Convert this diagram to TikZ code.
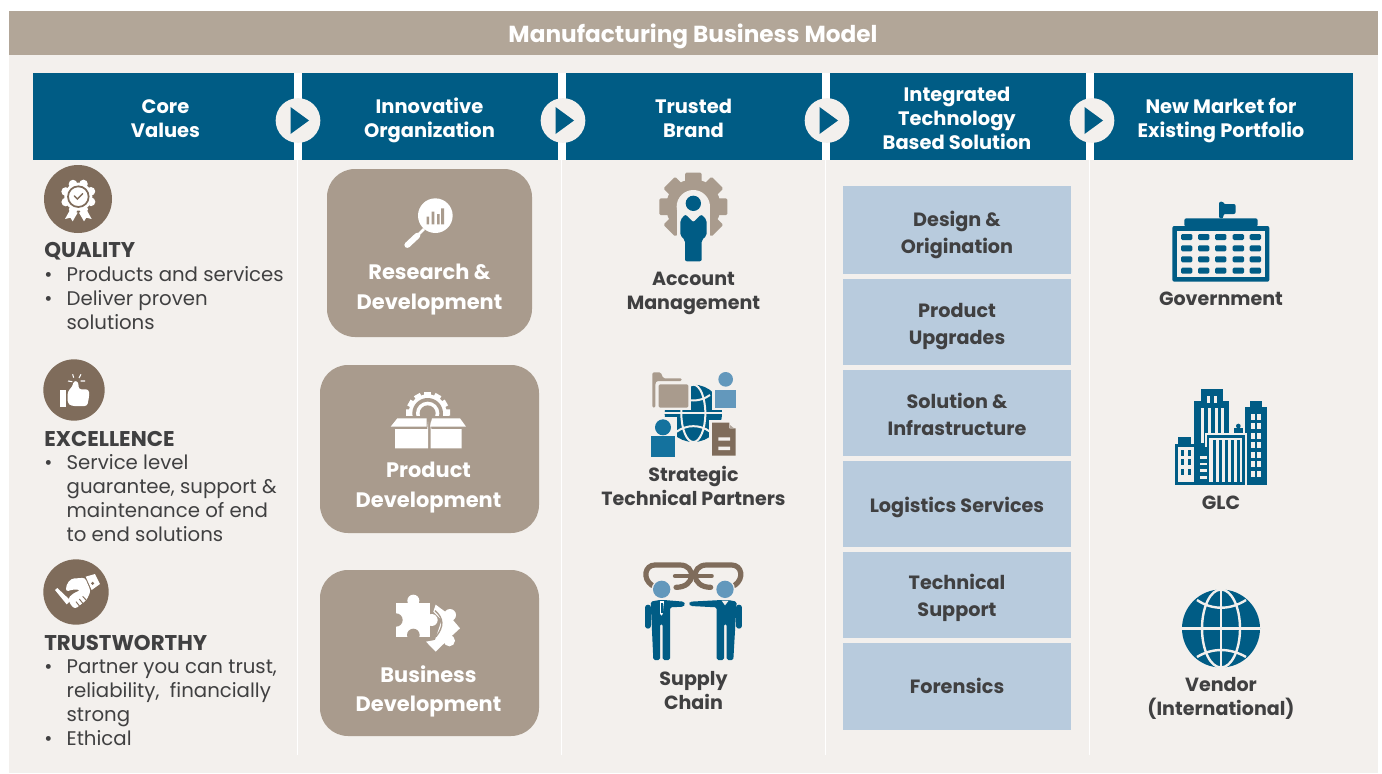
\documentclass[tikz,border=0pt]{standalone}
\usepackage{fontspec}
\setmainfont{Poppins}
\definecolor{bgp}{HTML}{F3F0ED}
\definecolor{tanbar}{HTML}{B2A698}
\definecolor{tanbox}{HTML}{A99B8D}
\definecolor{brownc}{HTML}{7F6C5B}
\definecolor{navy}{HTML}{005C85}
\definecolor{paleb}{HTML}{B8CBDD}
\definecolor{midb}{HTML}{6398BC}
\definecolor{tealb}{HTML}{14729E}
\definecolor{ink}{HTML}{404041}
\tikzset{
 zm/.style 2 args={shift={(#1,#2)},x=0.25pt,y=-0.25pt},
 headtxt/.style={text=white,font=\fontsize{14.6}{18}\selectfont\bfseries,align=center,inner sep=0pt},
 boxtxt/.style={text=white,font=\fontsize{15.7}{22}\selectfont\bfseries,align=center,inner sep=0pt},
 bluetxt/.style={text=ink,font=\fontsize{14.4}{20.25}\selectfont\bfseries,align=center,inner sep=0pt},
 captxt/.style={text=ink,font=\fontsize{14.3}{18}\selectfont\bfseries,align=center,inner sep=0pt},
 lefthead/.style={text=ink,font=\fontsize{16}{18}\selectfont\bfseries,align=left,anchor=west,inner sep=0pt},
 lefttxt/.style={text=ink,font=\fontsize{14.8}{18}\selectfont,align=left,anchor=north west,inner sep=0pt},
 tanround/.style={fill=tanbox,draw=none,rounded corners=21pt},
 bluecell/.style={fill=paleb,draw=none},
 playc/.style={circle,fill=bgp,minimum size=33.5pt,inner sep=0pt},
 sep/.style={draw=white,line width=0.9pt},
}
\newcommand{\bl}{\makebox[16.8pt][l]{•}}
\newcommand{\ind}{\hspace*{16.8pt}}
\begin{document}
\begin{tikzpicture}[x=0.75pt,y=-0.75pt]
\useasboundingbox (0,0) rectangle (1382,774);
\fill[white] (0,0) rectangle (1382,774);
\fill[bgp] (9,55) rectangle (1378,773);
\fill[tanbar] (9,11) rectangle (1378,55);
\node[text=white,font=\fontsize{17.4}{20}\selectfont\bfseries,inner sep=0pt] (title) at (693,36) {Manufacturing Business Model};
% header
\fill[navy] (33,73) rectangle (1353,160);
\foreach \xx in {297.5,561.5,825.5,1089.5}{
 \fill[white] (\xx-4,73) rectangle (\xx+4,160);
 \draw[sep] (\xx,160) -- (\xx,755);
}
\node[headtxt] (h1) at (165.5,119) {Core\\Values};
\node[headtxt] (h2) at (429.5,120) {Innovative\\Organization};
\node[headtxt] (h3) at (693.5,118) {Trusted\\Brand};
\node[headtxt] (h4) at (957,118) {Integrated\\Technology\\Based Solution};
\node[headtxt] (h5) at (1221,121) {New Market for\\Existing Portfolio};
\foreach \xx/\nm in {298/a,563/b,827/c,1092/d}{
 \node[playc] (p\nm) at (\xx,120.5) {};
 \fill[navy] (\xx-7.5,107) -- (\xx+11,120.5) -- (\xx-7.5,134) -- cycle;
}
% left column
\node[circle,fill=brownc,minimum size=51pt,inner sep=0pt] (c1) at (78,199) {};
\node[circle,fill=brownc,minimum size=46pt,inner sep=0pt] (c2) at (74,390) {};
\node[circle,fill=brownc,minimum size=49pt,inner sep=0pt] (c3) at (76,592) {};
\begin{scope}[zm={30}{160}]
 \foreach \a in {0,45,...,315}{\fill[white] (145,110)++(\a+22:41) circle (13);}
 \fill[white] (145,110) circle (42);
 \draw[brownc,line width=1.3pt] (145,110) circle (31);
 \draw[brownc,line width=1.1pt,line cap=round] (133,108) -- (142,117) -- (158,101);
 \fill[white] (120,150) -- (105,177) -- (121,173) -- (128,184) -- (143,158) -- cycle;
 \fill[white] (170,150) -- (185,177) -- (169,173) -- (162,184) -- (147,158) -- cycle;
\end{scope}
\begin{scope}[zm={30}{350}]
 \fill[white] (90,120) rectangle (108,170);
 \fill[white,rounded corners=2pt] (113,125) -- (128,108) -- (131,92) -- (145,95) -- (146,118) -- (176,118) -- (178,135) -- (172,168) -- (125,168) -- (113,160) -- cycle;
 \draw[white,line width=.8pt] (114,93) -- (127,95) (128,73) -- (131,83) (153,73) -- (147,84) (152,93) -- (165,93);
\end{scope}
\begin{scope}[zm={40}{560}]
 \fill[white,rounded corners=2pt] (78,95) .. controls (78,72) and (90,55) .. (112,55) -- (135,53) -- (152,93) -- (140,120) -- (105,147) -- (92,135) -- (84,115) -- (100,100) -- (122,90) -- (100,88) -- cycle;
 \fill[white] (137,50) -- (165,42) -- (180,72) -- (155,90) -- cycle;
 \fill[brownc] (158,70) circle (5);
 \fill[white] (45,90) -- (52,84) -- (92,122) -- (80,133) -- cycle;
 \draw[brownc,line width=.7pt] (108,125) -- (120,140) (118,117) -- (130,132) (128,109) -- (140,122);
\end{scope}
\node[lefthead] (q) at (44,251.5) {QUALITY};
\node[lefttxt] (qt) at (44,266.5) {\bl Products and services\\\bl Deliver proven\\\ind solutions};
\node[lefthead] (e) at (44,438.5) {EXCELLENCE};
\node[lefttxt] (et) at (44,454.5) {\bl Service level\\\ind guarantee, support \&\\\ind maintenance of end\\\ind to end solutions};
\node[lefthead] (t) at (44,642.5) {TRUSTWORTHY};
\node[lefttxt] (tt) at (44,659) {\bl Partner you can trust,\\\ind reliability,\ \ financially\\\ind strong\\\bl Ethical};
% column 2
\fill[tanround] (327,169) rectangle (532,337);
\fill[tanround] (320,365) rectangle (539,533);
\fill[tanround] (320,570) rectangle (539,736);
\node[boxtxt] (b1) at (429.5,289.5) {Research \&\\Development};
\node[boxtxt] (b2) at (428.5,487.5) {Product\\Development};
\node[boxtxt] (b3) at (428.5,691.5) {Business\\Development};
\begin{scope}[zm={320}{165}]
 \fill[white] (346,152) circle (52);
 \draw[white,line width=4.4pt,line cap=round] (262,240) -- (292,212);
 \draw[white,line width=2pt] (290,214) -- (312,192);
 \fill[tanbox] (320,155) rectangle (327,178) (335,140) rectangle (343,178) (351,147) rectangle (359,178) (363,130) rectangle (372,178);
 % gear & box
 \begin{scope}
  \clip (200,660) rectangle (450,752);
  \foreach \a in {0,30,...,330}{\fill[white,rotate around={\a:(323,745)}] (313,680) rectangle (333,700);}
  \fill[white] (323,745) circle (57);
  \fill[tanbox] (323,745) circle (46);
  \fill[white] (323,745) circle (35);
  \fill[tanbox] (323,745) circle (24);
  \fill[tanbox] (200,752) rectangle (450,760);
  \fill[white] (258,733) rectangle (275,752) (372,733) rectangle (390,752);
 \end{scope}
 \fill[white] (232,760) -- (320,760) -- (320,785) -- (212,785) -- cycle;
 \fill[white] (336,760) -- (420,760) -- (438,785) -- (330,785) -- cycle;
 \fill[white] (225,792) -- (322,792) -- (324,770) -- (324,850) -- (225,850) -- cycle;
 \fill[white] (332,850) -- (332,770) -- (334,792) -- (425,792) -- (425,850) -- cycle;
\end{scope}
\begin{scope}[zm={370}{580}]
 \fill[white] (78,68) -- (180,68) -- (180,170) -- (78,170) -- cycle;
 \fill[white] (130,62) circle (18);
 \fill[white] (185,120) circle (18);
 \fill[tanbox] (78,120) circle (20);
 \fill[tanbox] (130,165) circle (19);
 \fill[tanbox] (130,172) rectangle (140,175);
 \fill[white] (197,74) -- (232,100) -- (270,145) -- (245,168) -- (197,215) -- (168,185) -- (195,180) -- (205,150) -- (215,120) -- (190,95) -- cycle;
 \fill[white] (240,105) circle (18);
 \fill[white] (238,182) circle (17);
 \draw[tanbox,line width=1pt] (195,92) .. controls (222,115) and (222,140) .. (198,170);
\end{scope}
% column 3 icons
\begin{scope}[zm={600}{165}]
 \foreach \a in {0,45,...,315}{\fill[tanbox,rotate around={\a:(280,125)},rounded corners=1pt] (255,23) rectangle (305,70);}
 \fill[tanbox] (280,125) circle (82);
 \fill[bgp] (280,125) circle (50);
 \fill[bgp] (230,130) rectangle (330,225);
 \fill[bgp] (245,200) rectangle (315,292);
 \fill[navy] (280,115) circle (23);
 \fill[navy,rounded corners=1.5pt] (241,165) -- (256,148) -- (280,172) -- (304,148) -- (320,165) -- (320,212) -- (305,225) -- (305,289) -- (255,289) -- (255,225) -- (241,212) -- cycle;
\end{scope}
\begin{scope}[zm={600}{165}]
 \fill[navy] (280,745) circle (86);
 \draw[bgp,line width=1.5pt] (280,745) ellipse (36 and 86);
 \draw[bgp,line width=1.5pt] (190,745) -- (370,745);
 \draw[bgp,line width=1.5pt] (230,690) .. controls (260,712) and (300,712) .. (330,690);
 \draw[bgp,line width=1.5pt] (230,800) .. controls (260,778) and (300,778) .. (330,800);
 \fill[bgp] (150,612) rectangle (272,736);
 \fill[tanbox,rounded corners=1pt] (157,622) -- (182,622) -- (190,640) -- (245,640) -- (245,648) -- (170,648) -- (166,655) -- (166,728) -- (157,728) -- cycle;
 \fill[tanbox,rounded corners=1pt] (176,658) rectangle (265,728);
 \fill[bgp] (337,612) rectangle (415,735);
 \fill[midb] (377,643) circle (22);
 \fill[midb] (345,675) rectangle (408,728);
 \fill[bgp] (145,755) rectangle (232,885);
 \fill[tealb] (189,787) circle (24);
 \fill[tealb] (153,814) rectangle (225,876);
 \fill[bgp] (328,765) rectangle (415,880);
 \fill[brownc] (336,773) -- (388,773) -- (388,790) -- (407,790) -- (407,872) -- (336,872) -- cycle;
 \fill[brownc!60] (390,780) -- (402,790) -- (390,790) -- cycle;
 \fill[bgp] (355,817) rectangle (390,827) (355,845) rectangle (390,855);
\end{scope}
\begin{scope}[zm={620}{550}]
 \draw[brownc,line width=3.9pt,line cap=round] (96,106) .. controls (66,85) and (75,45) .. (105,45) -- (180,45) .. controls (228,45) and (228,112) .. (168,112);
 \draw[brownc,line width=3.9pt,line cap=round] (344,106) .. controls (374,85) and (365,45) .. (335,45) -- (260,45) .. controls (212,45) and (212,112) .. (272,112);
 \draw[brownc,line width=3.2pt,line cap=round] (165,78) -- (275,78);
 \fill[bgp] (125,118) circle (30) (315,118) circle (30);
 \fill[midb] (125,118) circle (26);
 \fill[midb] (315,118) circle (26);
 % left person
 \fill[navy,rounded corners=1.2pt] (92,155) -- (118,150) -- (132,150) -- (192,155) -- (196,163) -- (190,170) -- (150,172) -- (150,215) -- (150,330) -- (128,330) -- (128,222) -- (120,222) -- (120,330) -- (100,330) -- cycle;
 \draw[navy,line width=4pt,line cap=round] (84,172) -- (84,228);
 \fill[white] (120,153) -- (132,153) -- (128,192) -- (125,197) -- (120,192) -- cycle;
 \fill[navy] (123,160) rectangle (129,190);
 % right person
 \fill[navy,rounded corners=1.2pt] (350,155) -- (325,150) -- (305,150) -- (210,155) -- (206,162) -- (212,168) -- (290,172) -- (290,330) -- (312,330) -- (312,222) -- (320,222) -- (320,330) -- (340,330) -- cycle;
 \draw[navy,line width=4pt,line cap=round] (357,172) -- (357,228);
 \fill[bgp] (305,152) -- (326,152) -- (315,166) -- cycle;
\end{scope}
\node[captxt] (a1) at (693.5,293) {Account\\Management};
\node[captxt] (a2) at (693.5,486) {Strategic\\Technical Partners};
\node[captxt] (a3) at (693.5,690.5) {Supply\\Chain};
% column 4
\fill[bluecell] (843,186) rectangle (1071,274);
\fill[bluecell] (843,279) rectangle (1071,365);
\fill[bluecell] (843,370) rectangle (1071,456);
\fill[bluecell] (843,461) rectangle (1071,547);
\fill[bluecell] (843,552) rectangle (1071,638);
\fill[bluecell] (843,643) rectangle (1071,730);
\node[bluetxt] (s1) at (957,235) {Design \&\\Origination};
\node[bluetxt] (s2) at (957,326.5) {Product\\Upgrades};
\node[bluetxt] (s3) at (957,414) {Solution \&\\Infrastructure};
\node[bluetxt] (s4) at (957,507.5) {Logistics Services};
\node[bluetxt] (s5) at (957,598) {Technical\\Support};
\node[bluetxt] (s6) at (957,686) {Forensics};
% column 5
\begin{scope}[zm={1150}{190}]
 \fill[navy,rounded corners=1.5pt] (207,85) -- (207,35) -- (220,35) -- (220,42) -- (257,42) -- (257,72) -- (220,72) -- (220,85) -- cycle;
 \fill[navy,rounded corners=1.5pt] (103,110) -- (103,85) -- (323,85) -- (323,110) -- cycle;
 \fill[navy,rounded corners=1.5pt] (67,108) rectangle (358,275);
 \fill[bgp] (82,123) rectangle (345,260);
 \foreach \yy in {141,175,208,242}{\foreach \xx in {110,161,212,265,316}{
  \fill[navy,rounded corners=1pt] (\xx-17,\yy-9) rectangle (\xx+17,\yy+9);
 }}
 % GLC
 \fill[navy] (152,598) rectangle (218,640);
 \fill[navy] (132,632) rectangle (237,770);
 \foreach \xx in {170,192}{\fill[bgp] (\xx,618) rectangle (\xx+10,640);}
 \foreach \xx in {154,174,194,214}{\fill[bgp] (\xx,655) rectangle (\xx+9,760);}
 \fill[navy] (300,632) rectangle (337,660);
 \fill[navy] (285,652) rectangle (352,885);
 \foreach \yy in {680,708,737,765,795,823,852}{\foreach \xx in {309,327}{
  \fill[bgp] (\xx-5,\yy-9) rectangle (\xx+5,\yy+9);
 }}
 \fill[navy] (252,715) rectangle (280,740);
 \fill[navy] (265,708) circle (7);
 \fill[bgp] (165,728) rectangle (290,890);
 \fill[navy] (170,735) rectangle (285,885);
 \fill[bgp] (178,745) rectangle (277,875);
 \foreach \xx in {189,207,225,243,261}{\fill[navy] (\xx,750) rectangle (\xx+9,875);}
 \fill[navy] (132,770) rectangle (172,885);
 \foreach \yy in {798,818,838,858}{\fill[bgp] (150,\yy) rectangle (170,\yy+8);}
 \fill[navy] (85,742) rectangle (122,770);
 \fill[navy] (75,762) rectangle (135,885);
 \fill[bgp] (84,772) rectangle (132,876);
 \foreach \yy in {788,817,845}{\foreach \xx in {98,118}{\fill[navy] (\xx-4,\yy-9) rectangle (\xx+4,\yy+9);}}
\end{scope}
\node[captxt] (g1) at (1221,299) {Government};
\node[captxt] (g2) at (1221,503) {GLC};
\node[captxt] (g3) at (1221,698) {Vendor\\(International)};
\fill[navy] (1221,628.5) circle (39);
\draw[bgp,line width=1.8pt] (1221,628.5) ellipse (19 and 39);
\draw[bgp,line width=1.8pt] (1221,589) -- (1221,668) (1182,628.5) -- (1260,628.5);
\draw[bgp,line width=1.8pt] (1197,600) .. controls (1212,610.3) and (1230,610.3) .. (1246,600);
\draw[bgp,line width=1.8pt] (1197,657) .. controls (1212,647.7) and (1230,647.7) .. (1246,657);
\end{tikzpicture}
\end{document}
